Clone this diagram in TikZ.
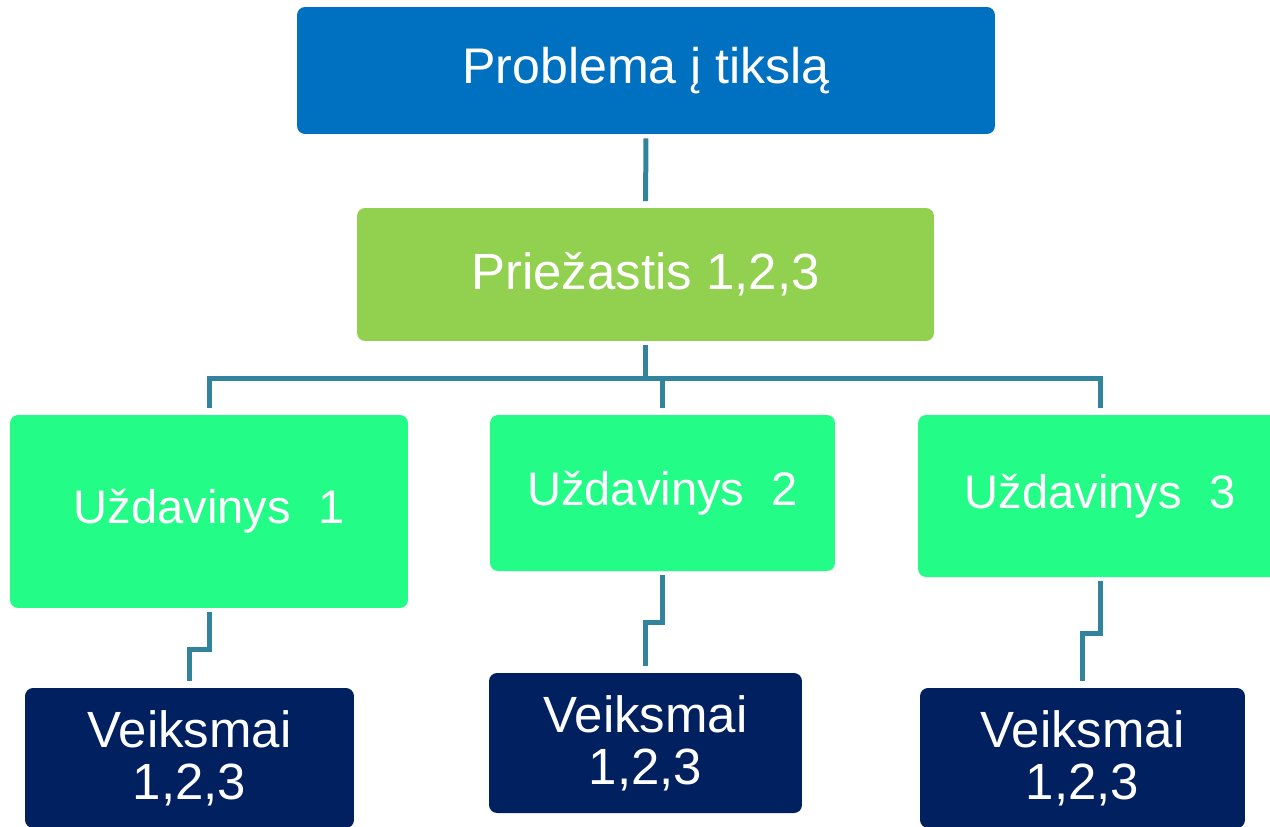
\documentclass[tikz,border=0pt]{standalone}
\usepackage{fontspec}
\setmainfont{Liberation Sans}
\definecolor{probblue}{HTML}{0070C0}
\definecolor{causegreen}{HTML}{92D050}
\definecolor{taskgreen}{HTML}{24FC88}
\definecolor{actnavy}{HTML}{002060}
\definecolor{linkteal}{HTML}{31849B}
\begin{document}
\begin{tikzpicture}[x=0.02cm, y=-0.02cm,
		box/.style={rounded corners=0.16cm, inner sep=0pt, text=white, align=center,
			font=\fontsize{29}{29.5}\selectfont},
		task/.style={box, fill=taskgreen, font=\fontsize{26.8}{29}\selectfont},
		link/.style={draw=linkteal, line width=0.1cm, shorten <=0.08cm, shorten >=0.13cm}]
			\clip (0,0) rectangle (1270,826);
			
			\node [box, fill=probblue, minimum width=13.96cm, minimum height=2.54cm,
				font=\fontsize{28.5}{29}\selectfont] (prob) at (646,70.5) {Problema į tikslą};
			\node [box, fill=causegreen, minimum width=11.54cm, minimum height=2.66cm] (prie) at (645.5,274.5) {Priežastis 1,2,3};
			
			\node [task, minimum width=7.96cm, minimum height=3.86cm] (u1) at (209,511.5) {Uždavinys\hspace{0.3em} 1};
			\node [task, minimum width=6.9cm, minimum height=3.12cm] (u2) at (662.5,493) {Uždavinys\hspace{0.3em} 2};
			\node [task, minimum width=7.28cm, minimum height=3.24cm] (u3) at (1100,496) {Uždavinys\hspace{0.3em} 3};
			
			\node [box, fill=actnavy, minimum width=6.58cm, minimum height=2.8cm] (v1) at (189.5,758) {Veiksmai\\1,2,3};
			\node [box, fill=actnavy, minimum width=6.26cm, minimum height=2.8cm] (v2) at (645.5,743) {Veiksmai\\1,2,3};
			\node [box, fill=actnavy, minimum width=6.5cm, minimum height=2.8cm] (v3) at (1082.5,758) {Veiksmai\\1,2,3};
			
			\draw [link] (prob.south) -- (prie.north);
			\draw [link, shorten >=0pt] (prie.south) -- ++(0,37) coordinate (bus);
			\draw [link, shorten <=0.13cm] (u1.north) |- (bus) -| (u3.north);
			\draw [link, shorten <=0pt] (bus -| u2.north) -- (u2.north);
			
			\draw [link] (u1.south) -- ++(0,41) -| (v1.north);
			\draw [link] (u2.south) -- ++(0,51) -| (v2.north);
			\draw [link] (u3.south) -- ++(0,56) -| (v3.north);
		\end{tikzpicture}
\end{document}
